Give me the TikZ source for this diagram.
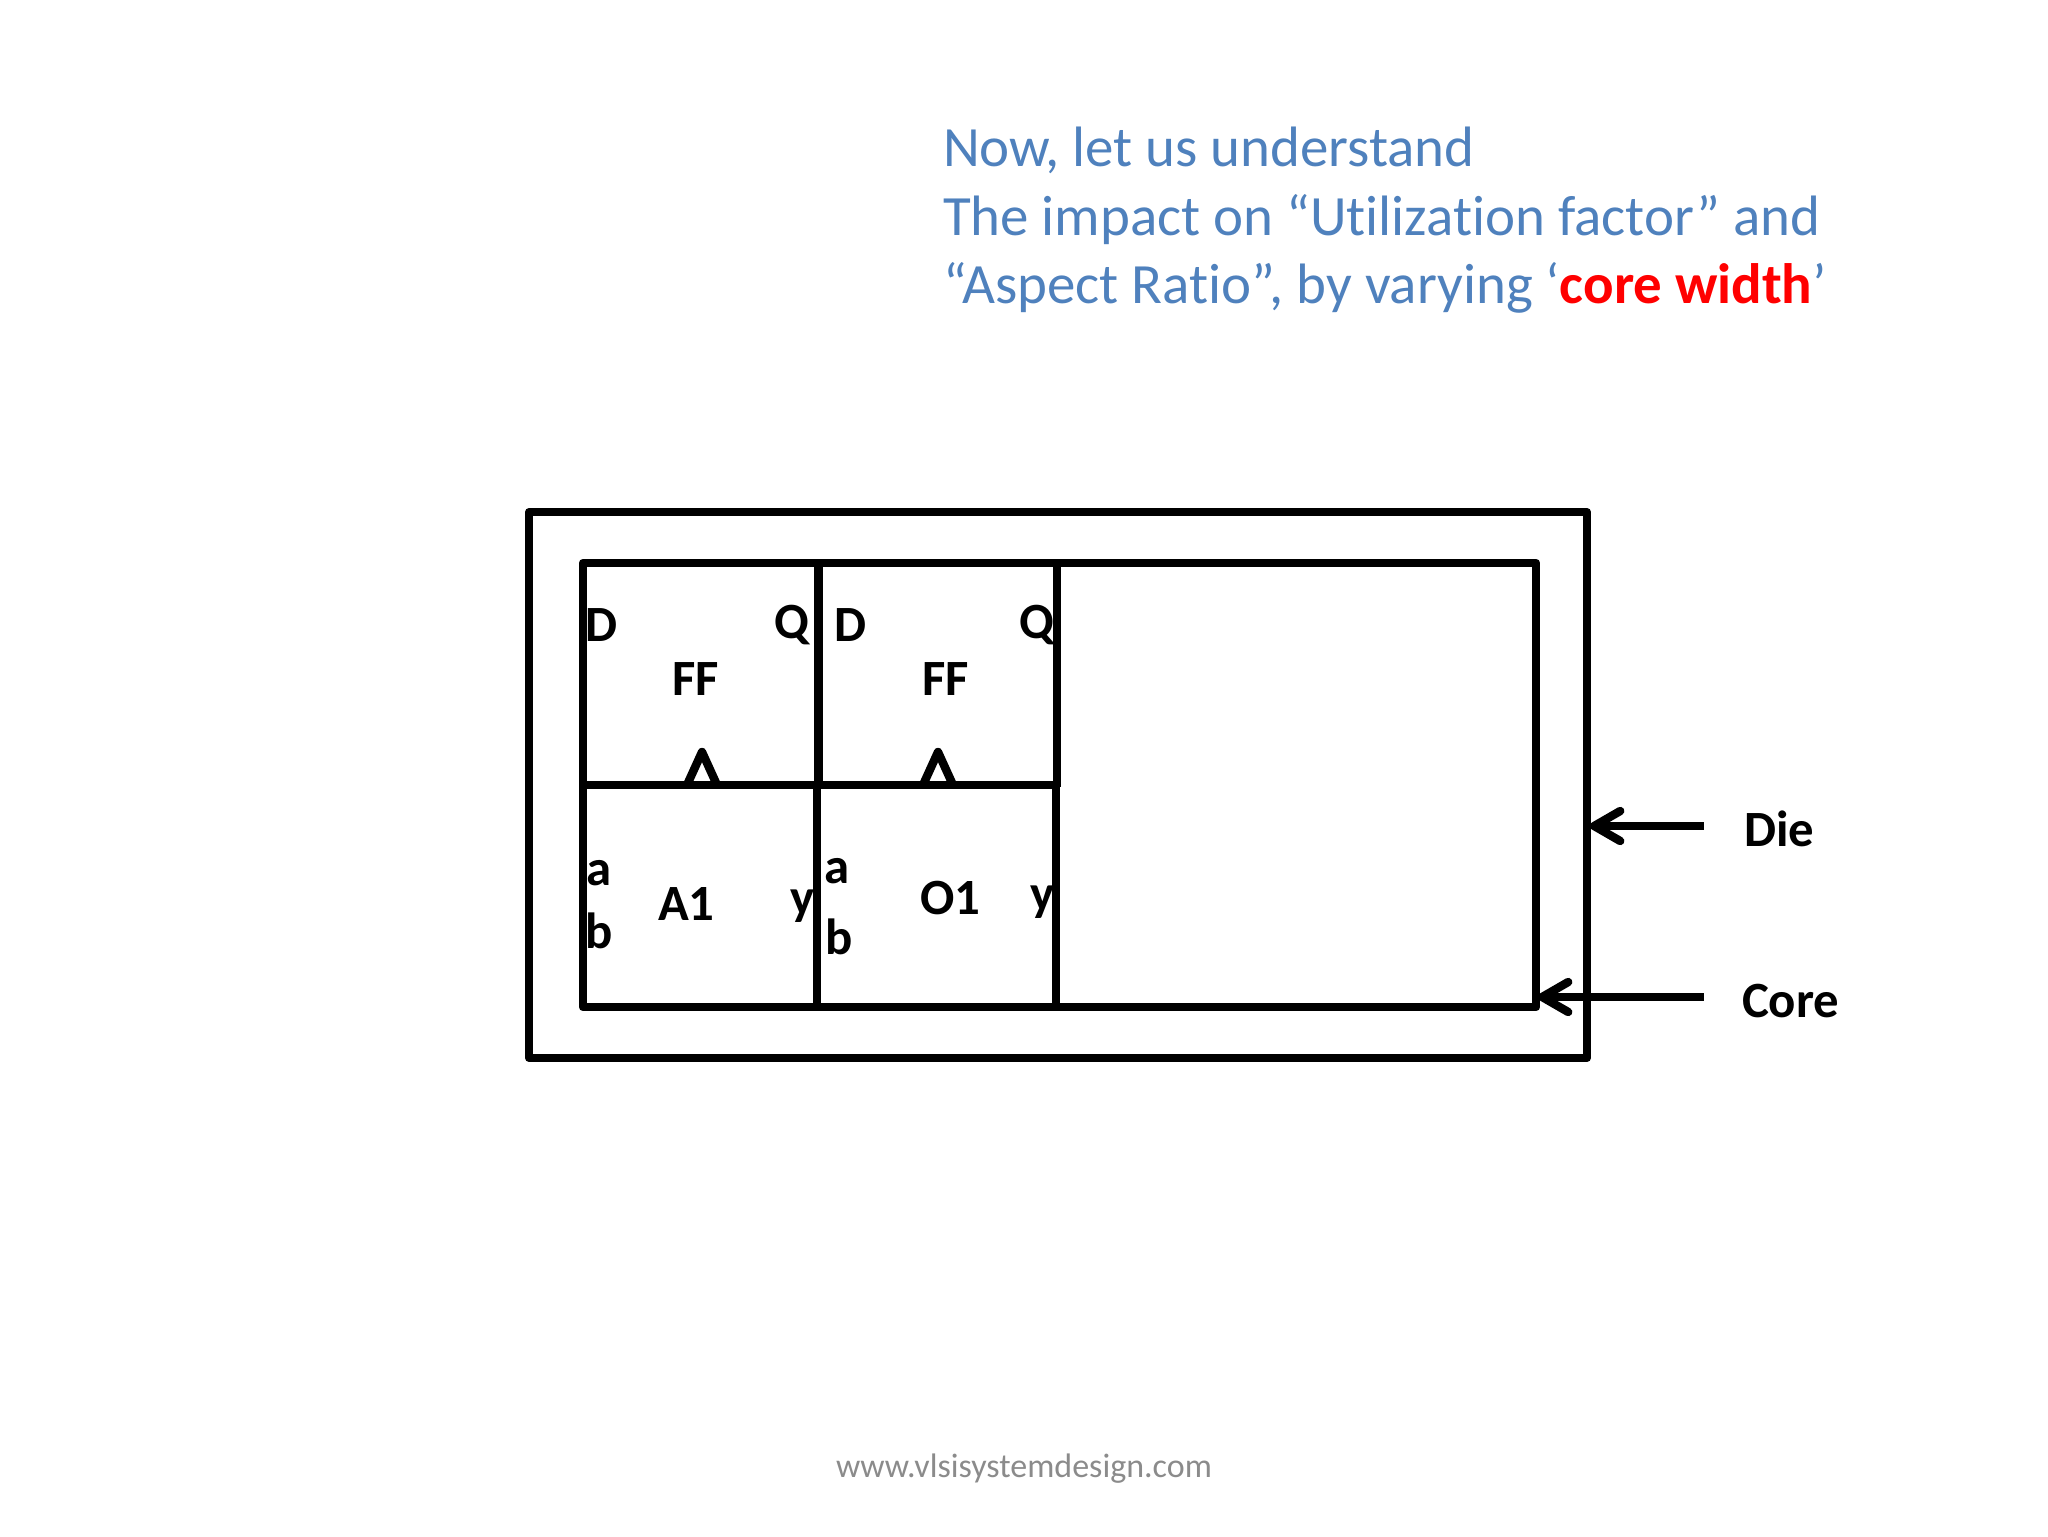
\documentclass[tikz,border=0pt]{standalone}
\usepackage{fontspec}
\setmainfont[Ligatures=NoCommon]{Carlito}
\usetikzlibrary{arrows.meta}
\definecolor{slideblue}{HTML}{4F81BD}
\definecolor{footgray}{HTML}{8B8B8B}
\newcommand{\sz}[1]{\fontsize{#1}{#1}\selectfont}
\tikzset{
  x=0.5pt,y=-0.5pt,
  wire/.style={draw=black,line width=4.2pt,line join=round},
  box/.style={wire,rectangle,inner sep=0pt,outer sep=0pt},
  lab/.style={anchor=base west,inner sep=0pt,outer sep=0pt,font=\sz{25.4}\bfseries},
  para/.style={anchor=base west,inner sep=0pt,outer sep=0pt,font=\sz{28.47},text=slideblue},
  pointer/.style={draw=black,line width=4.2pt,{Straight Barb[length=13pt,width=15pt,round,line width=4.2pt]}-},
}
\begin{document}
\begin{tikzpicture}
\useasboundingbox (0,0) rectangle (2048,1536);
\node[para] (t1) at (943,166.5) {Now, let us understand};
\node[para] (t2) at (943,235) {The impact on “Utilization factor” and};
\node[para] (t3) at (943,303.5) {“Aspect Ratio”, by varying ‘\textcolor{red}{\textbf{core width}}’};

\node[box,minimum width=529pt,minimum height=272.75pt] (die) at (1058,785) {};
\node[box,minimum width=476.5pt,minimum height=222pt] (core) at (1059.5,785) {};

\coordinate (d1t) at (818.5,563);
\coordinate (d1m) at (818.5,785);
\coordinate (d1n) at (817,785);
\coordinate (d1b) at (817,1007);
\coordinate (d2t) at (1057,563);
\coordinate (d2m) at (1057,787);
\coordinate (d2n) at (1056,785);
\coordinate (d2b) at (1056,1007);
\coordinate (ml) at (583,785);
\coordinate (mr) at (1057,785);
\draw[wire] (d1t) -- (d1m);
\draw[wire] (d1n) -- (d1b);
\draw[wire] (d2t) -- (d2m);
\draw[wire] (d2n) -- (d2b);
\draw[wire] (ml) -- (mr);

\coordinate (c1a) at (687,785);
\coordinate (c1t) at (702,752);
\coordinate (c1b) at (717,785);
\coordinate (c2a) at (923,785);
\coordinate (c2t) at (938,752);
\coordinate (c2b) at (953,785);
\draw[wire] (c1a) -- (c1t) -- (c1b);
\draw[wire] (c2a) -- (c2t) -- (c2b);

\node[lab] (D1) at (585,641.5) {D};
\node[lab] (Q1) at (774,638.5) {Q};
\node[lab] (FF1) at (672,695.5) {FF};
\node[lab] (D2) at (834,641.5) {D};
\node[lab] (Q2) at (1019,638.5) {Q};
\node[lab] (FF2) at (922,695.5) {FF};
\node[lab] (a1) at (586,885.5) {a};
\node[lab] (b1) at (585.5,948.5) {b};
\node[lab] (A1) at (658,920) {A1};
\node[lab] (y1) at (790,914.5) {y};
\node[lab] (a2) at (824,883) {a};
\node[lab] (b2) at (825,954.5) {b};
\node[lab] (O1) at (920,914.5) {O1};
\node[lab] (y2) at (1030,910.5) {y};

\coordinate (dieTail) at (1704,826);
\coordinate (dieTip) at (1590,826);
\coordinate (coreTail) at (1704,997);
\coordinate (coreTip) at (1538,997);
\draw[pointer] (dieTip) -- (dieTail);
\draw[pointer] (coreTip) -- (coreTail);
\node[lab] (dielab) at (1744,846.5) {Die};
\node[lab] (corelab) at (1742,1017.5) {Core};

\node[anchor=base,inner sep=0pt,font=\sz{17},text=footgray] (foot) at (1024,1477) {www.vlsisystemdesign.com};
\end{tikzpicture}
\end{document}
